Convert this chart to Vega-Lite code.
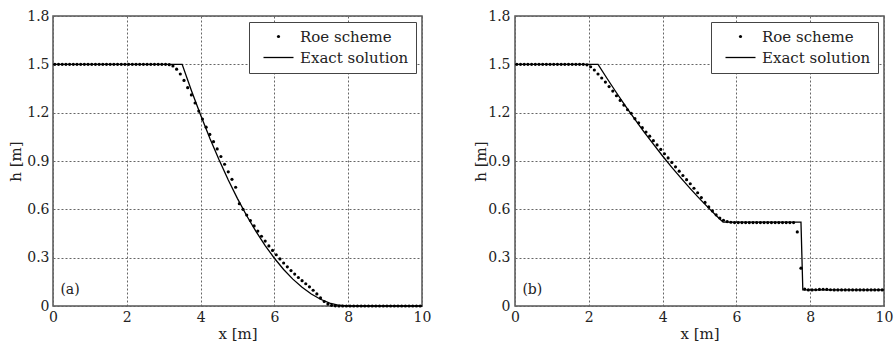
{
  "$schema": "https://vega.github.io/schema/vega-lite/v6.json",
  "padding": {"left": 7, "top": 8, "right": 0, "bottom": 0},
  "background": "white",
  "datasets": {
    "exactA": [
      {"x": 0, "h": 1.5}, {"x": 3.5, "h": 1.5}, {"x": 3.75, "h": 1.338}, {"x": 4.0, "h": 1.1852},
      {"x": 4.25, "h": 1.0417}, {"x": 4.5, "h": 0.9074}, {"x": 4.75, "h": 0.7824}, {"x": 5.0, "h": 0.6667},
      {"x": 5.25, "h": 0.5602}, {"x": 5.5, "h": 0.463}, {"x": 5.75, "h": 0.375}, {"x": 6.0, "h": 0.2963},
      {"x": 6.25, "h": 0.2269}, {"x": 6.5, "h": 0.1667}, {"x": 6.75, "h": 0.1157}, {"x": 7.0, "h": 0.0741},
      {"x": 7.25, "h": 0.0417}, {"x": 7.5, "h": 0.0185}, {"x": 7.75, "h": 0.0046}, {"x": 8.0, "h": 0}, {"x": 10, "h": 0}
    ],
    "roeA": [
      {"x": 0.05, "h": 1.5}, {"x": 0.15, "h": 1.5}, {"x": 0.25, "h": 1.5}, {"x": 0.35, "h": 1.5}, {"x": 0.45, "h": 1.5},
      {"x": 0.55, "h": 1.5}, {"x": 0.65, "h": 1.5}, {"x": 0.75, "h": 1.5}, {"x": 0.85, "h": 1.5}, {"x": 0.95, "h": 1.5},
      {"x": 1.05, "h": 1.5}, {"x": 1.15, "h": 1.5}, {"x": 1.25, "h": 1.5}, {"x": 1.35, "h": 1.5}, {"x": 1.45, "h": 1.5},
      {"x": 1.55, "h": 1.5}, {"x": 1.65, "h": 1.5}, {"x": 1.75, "h": 1.5}, {"x": 1.85, "h": 1.5}, {"x": 1.95, "h": 1.5},
      {"x": 2.05, "h": 1.5}, {"x": 2.15, "h": 1.5}, {"x": 2.25, "h": 1.5}, {"x": 2.35, "h": 1.5}, {"x": 2.45, "h": 1.5},
      {"x": 2.55, "h": 1.5}, {"x": 2.65, "h": 1.5}, {"x": 2.75, "h": 1.5}, {"x": 2.85, "h": 1.5}, {"x": 2.95, "h": 1.5},
      {"x": 3.05, "h": 1.5}, {"x": 3.15, "h": 1.498}, {"x": 3.25, "h": 1.49}, {"x": 3.35, "h": 1.47}, {"x": 3.45, "h": 1.44},
      {"x": 3.55, "h": 1.4}, {"x": 3.65, "h": 1.355}, {"x": 3.75, "h": 1.31}, {"x": 3.85, "h": 1.26}, {"x": 3.95, "h": 1.21},
      {"x": 4.05, "h": 1.16}, {"x": 4.15, "h": 1.11}, {"x": 4.25, "h": 1.065}, {"x": 4.35, "h": 1.02}, {"x": 4.45, "h": 0.975},
      {"x": 4.55, "h": 0.928}, {"x": 4.65, "h": 0.88}, {"x": 4.75, "h": 0.833}, {"x": 4.85, "h": 0.786}, {"x": 4.95, "h": 0.737},
      {"x": 5.05, "h": 0.635}, {"x": 5.15, "h": 0.6}, {"x": 5.25, "h": 0.565}, {"x": 5.35, "h": 0.53}, {"x": 5.45, "h": 0.497},
      {"x": 5.55, "h": 0.465}, {"x": 5.65, "h": 0.433}, {"x": 5.75, "h": 0.403}, {"x": 5.85, "h": 0.373}, {"x": 5.95, "h": 0.345},
      {"x": 6.05, "h": 0.318}, {"x": 6.15, "h": 0.292}, {"x": 6.25, "h": 0.267}, {"x": 6.35, "h": 0.243}, {"x": 6.45, "h": 0.22},
      {"x": 6.55, "h": 0.198}, {"x": 6.65, "h": 0.177}, {"x": 6.75, "h": 0.157}, {"x": 6.85, "h": 0.138}, {"x": 6.95, "h": 0.119},
      {"x": 7.05, "h": 0.098}, {"x": 7.15, "h": 0.075}, {"x": 7.25, "h": 0.05}, {"x": 7.35, "h": 0.028}, {"x": 7.45, "h": 0.012},
      {"x": 7.55, "h": 0.004}, {"x": 7.65, "h": 0.001}, {"x": 7.75, "h": 0}, {"x": 7.85, "h": 0}, {"x": 7.95, "h": 0},
      {"x": 8.05, "h": 0}, {"x": 8.15, "h": 0}, {"x": 8.25, "h": 0}, {"x": 8.35, "h": 0}, {"x": 8.45, "h": 0},
      {"x": 8.55, "h": 0}, {"x": 8.65, "h": 0}, {"x": 8.75, "h": 0}, {"x": 8.85, "h": 0}, {"x": 8.95, "h": 0},
      {"x": 9.05, "h": 0}, {"x": 9.15, "h": 0}, {"x": 9.25, "h": 0}, {"x": 9.35, "h": 0}, {"x": 9.45, "h": 0},
      {"x": 9.55, "h": 0}, {"x": 9.65, "h": 0}, {"x": 9.75, "h": 0}, {"x": 9.85, "h": 0}, {"x": 9.95, "h": 0}
    ],
    "exactB": [
      {"x": 0, "h": 1.5}, {"x": 2.25, "h": 1.5}, {"x": 2.5, "h": 1.4105}, {"x": 2.75, "h": 1.3237}, {"x": 3.0, "h": 1.2397},
      {"x": 3.25, "h": 1.1584}, {"x": 3.5, "h": 1.0799}, {"x": 3.75, "h": 1.0041}, {"x": 4.0, "h": 0.9311}, {"x": 4.25, "h": 0.8609},
      {"x": 4.5, "h": 0.7934}, {"x": 4.75, "h": 0.7287}, {"x": 5.0, "h": 0.6667}, {"x": 5.25, "h": 0.6074}, {"x": 5.5, "h": 0.551},
      {"x": 5.64, "h": 0.52}, {"x": 7.75, "h": 0.52}, {"x": 7.8, "h": 0.1}, {"x": 10, "h": 0.1}
    ],
    "roeB": [
      {"x": 0.05, "h": 1.5}, {"x": 0.15, "h": 1.5}, {"x": 0.25, "h": 1.5}, {"x": 0.35, "h": 1.5}, {"x": 0.45, "h": 1.5},
      {"x": 0.55, "h": 1.5}, {"x": 0.65, "h": 1.5}, {"x": 0.75, "h": 1.5}, {"x": 0.85, "h": 1.5}, {"x": 0.95, "h": 1.5},
      {"x": 1.05, "h": 1.5}, {"x": 1.15, "h": 1.5}, {"x": 1.25, "h": 1.5}, {"x": 1.35, "h": 1.5}, {"x": 1.45, "h": 1.5},
      {"x": 1.55, "h": 1.5}, {"x": 1.65, "h": 1.5}, {"x": 1.75, "h": 1.5}, {"x": 1.85, "h": 1.5}, {"x": 1.95, "h": 1.497},
      {"x": 2.05, "h": 1.485}, {"x": 2.15, "h": 1.465}, {"x": 2.25, "h": 1.44}, {"x": 2.35, "h": 1.415}, {"x": 2.45, "h": 1.39},
      {"x": 2.55, "h": 1.362}, {"x": 2.65, "h": 1.334}, {"x": 2.75, "h": 1.305}, {"x": 2.85, "h": 1.276}, {"x": 2.95, "h": 1.247},
      {"x": 3.05, "h": 1.218}, {"x": 3.15, "h": 1.196}, {"x": 3.25, "h": 1.163}, {"x": 3.35, "h": 1.137}, {"x": 3.45, "h": 1.107},
      {"x": 3.55, "h": 1.08}, {"x": 3.65, "h": 1.054}, {"x": 3.75, "h": 1.026}, {"x": 3.85, "h": 1.0}, {"x": 3.95, "h": 0.972},
      {"x": 4.05, "h": 0.945}, {"x": 4.15, "h": 0.919}, {"x": 4.25, "h": 0.891}, {"x": 4.35, "h": 0.864}, {"x": 4.45, "h": 0.837},
      {"x": 4.55, "h": 0.81}, {"x": 4.65, "h": 0.784}, {"x": 4.75, "h": 0.759}, {"x": 4.85, "h": 0.731}, {"x": 4.95, "h": 0.703},
      {"x": 5.05, "h": 0.673}, {"x": 5.15, "h": 0.643}, {"x": 5.25, "h": 0.615}, {"x": 5.35, "h": 0.59}, {"x": 5.45, "h": 0.566},
      {"x": 5.55, "h": 0.546}, {"x": 5.65, "h": 0.532}, {"x": 5.75, "h": 0.524}, {"x": 5.85, "h": 0.52}, {"x": 5.95, "h": 0.518},
      {"x": 6.05, "h": 0.518}, {"x": 6.15, "h": 0.518}, {"x": 6.25, "h": 0.518}, {"x": 6.35, "h": 0.518}, {"x": 6.45, "h": 0.518},
      {"x": 6.55, "h": 0.518}, {"x": 6.65, "h": 0.518}, {"x": 6.75, "h": 0.518}, {"x": 6.85, "h": 0.518}, {"x": 6.95, "h": 0.518},
      {"x": 7.05, "h": 0.518}, {"x": 7.15, "h": 0.518}, {"x": 7.25, "h": 0.518}, {"x": 7.35, "h": 0.518}, {"x": 7.45, "h": 0.518},
      {"x": 7.55, "h": 0.518}, {"x": 7.65, "h": 0.46}, {"x": 7.75, "h": 0.235}, {"x": 7.85, "h": 0.105}, {"x": 7.95, "h": 0.1},
      {"x": 8.05, "h": 0.1}, {"x": 8.15, "h": 0.101}, {"x": 8.25, "h": 0.103}, {"x": 8.35, "h": 0.104}, {"x": 8.45, "h": 0.103},
      {"x": 8.55, "h": 0.101}, {"x": 8.65, "h": 0.1}, {"x": 8.75, "h": 0.1}, {"x": 8.85, "h": 0.1}, {"x": 8.95, "h": 0.1},
      {"x": 9.05, "h": 0.1}, {"x": 9.15, "h": 0.1}, {"x": 9.25, "h": 0.1}, {"x": 9.35, "h": 0.1}, {"x": 9.45, "h": 0.1},
      {"x": 9.55, "h": 0.1}, {"x": 9.65, "h": 0.1}, {"x": 9.75, "h": 0.1}, {"x": 9.85, "h": 0.1}, {"x": 9.95, "h": 0.1}
    ],
    "labA": [{"x": 0.2, "h": 0.1, "t": "(a)"}],
    "labB": [{"x": 0.2, "h": 0.1, "t": "(b)"}]
  },
  "config": {
    "view": {"stroke": "#555", "strokeWidth": 1.5},
    "font": "DejaVu Serif",
    "concat": {"spacing": 40},
    "axis": {
      "labelFont": "DejaVu Serif", "labelFontSize": 14, "labelColor": "#222", "labelFlush": false,
      "titleFont": "DejaVu Serif", "titleFontSize": 15, "titleFontWeight": "normal", "titleColor": "#222",
      "grid": true, "gridColor": "#666", "gridDash": [2, 2], "gridWidth": 1, "gridOpacity": 1,
      "ticks": false, "domain": false, "labelPadding": 4
    }
  },
  "resolve": {"scale": {"color": "independent"}, "legend": {"color": "independent"}},
  "hconcat": [
    {
      "width": 369, "height": 290,
      "layer": [
        {
          "data": {"name": "exactA"},
          "mark": {"type": "line", "strokeWidth": 1.3},
          "encoding": {
            "x": {"field": "x", "type": "quantitative", "scale": {"domain": [0, 10], "nice": false}, "axis": {"values": [0, 2, 4, 6, 8, 10], "title": "x [m]", "titlePadding": 2}},
            "y": {"field": "h", "type": "quantitative", "scale": {"domain": [0, 1.8], "nice": false}, "axis": {"values": [0, 0.3, 0.6, 0.9, 1.2, 1.5, 1.8], "format": "~g", "title": "h [m]", "titlePadding": 3}},
            "color": {"datum": "Exact solution", "scale": {"domain": ["Roe scheme", "Exact solution"], "range": ["black", "black"]},
              "legend": {"title": null, "orient": "top-right", "offset": 6, "padding": 7, "rowPadding": 5, "fillColor": "white", "strokeColor": "#444",
                "labelFont": "DejaVu Serif", "labelFontSize": 15, "labelColor": "#222", "symbolSize": 100, "symbolOffset": 15, "labelOffset": 14,
                "encode": {"symbols": {"update": {
                  "shape": {"signal": "datum.value === 'Roe scheme' ? 'circle' : 'M-3,0H3'"},
                  "size": {"signal": "datum.value === 'Roe scheme' ? 10 : 100"},
                  "fill": {"value": "#111"}, "stroke": {"value": "#111"}, "opacity": {"value": 1},
                  "strokeWidth": {"signal": "datum.value === 'Roe scheme' ? 0 : 1.3"}}}}}}
          }
        },
        {
          "data": {"name": "roeA"},
          "mark": {"type": "circle", "size": 10, "opacity": 1},
          "encoding": {
            "x": {"field": "x", "type": "quantitative"},
            "y": {"field": "h", "type": "quantitative"},
            "color": {"datum": "Roe scheme"}
          }
        },
        {
          "data": {"name": "labA"},
          "mark": {"type": "text", "align": "left", "baseline": "middle", "fontSize": 14, "font": "DejaVu Serif", "color": "#222"},
          "encoding": {
            "x": {"field": "x", "type": "quantitative"},
            "y": {"field": "h", "type": "quantitative"},
            "text": {"field": "t"}
          }
        }
      ]
    },
    {
      "width": 369, "height": 290,
      "layer": [
        {
          "data": {"name": "exactB"},
          "mark": {"type": "line", "strokeWidth": 1.3},
          "encoding": {
            "x": {"field": "x", "type": "quantitative", "scale": {"domain": [0, 10], "nice": false}, "axis": {"values": [0, 2, 4, 6, 8, 10], "title": "x [m]", "titlePadding": 2}},
            "y": {"field": "h", "type": "quantitative", "scale": {"domain": [0, 1.8], "nice": false}, "axis": {"values": [0, 0.3, 0.6, 0.9, 1.2, 1.5, 1.8], "format": "~g", "title": "h [m]", "titlePadding": -1, "labelPadding": 5}},
            "color": {"datum": "Exact solution", "scale": {"domain": ["Roe scheme", "Exact solution"], "range": ["black", "black"]},
              "legend": {"title": null, "orient": "top-right", "offset": 6, "padding": 7, "rowPadding": 5, "fillColor": "white", "strokeColor": "#444",
                "labelFont": "DejaVu Serif", "labelFontSize": 15, "labelColor": "#222", "symbolSize": 100, "symbolOffset": 15, "labelOffset": 14,
                "encode": {"symbols": {"update": {
                  "shape": {"signal": "datum.value === 'Roe scheme' ? 'circle' : 'M-3,0H3'"},
                  "size": {"signal": "datum.value === 'Roe scheme' ? 10 : 100"},
                  "fill": {"value": "#111"}, "stroke": {"value": "#111"}, "opacity": {"value": 1},
                  "strokeWidth": {"signal": "datum.value === 'Roe scheme' ? 0 : 1.3"}}}}}}
          }
        },
        {
          "data": {"name": "roeB"},
          "mark": {"type": "circle", "size": 10, "opacity": 1},
          "encoding": {
            "x": {"field": "x", "type": "quantitative"},
            "y": {"field": "h", "type": "quantitative"},
            "color": {"datum": "Roe scheme"}
          }
        },
        {
          "data": {"name": "labB"},
          "mark": {"type": "text", "align": "left", "baseline": "middle", "fontSize": 14, "font": "DejaVu Serif", "color": "#222"},
          "encoding": {
            "x": {"field": "x", "type": "quantitative"},
            "y": {"field": "h", "type": "quantitative"},
            "text": {"field": "t"}
          }
        }
      ]
    }
  ]
}
